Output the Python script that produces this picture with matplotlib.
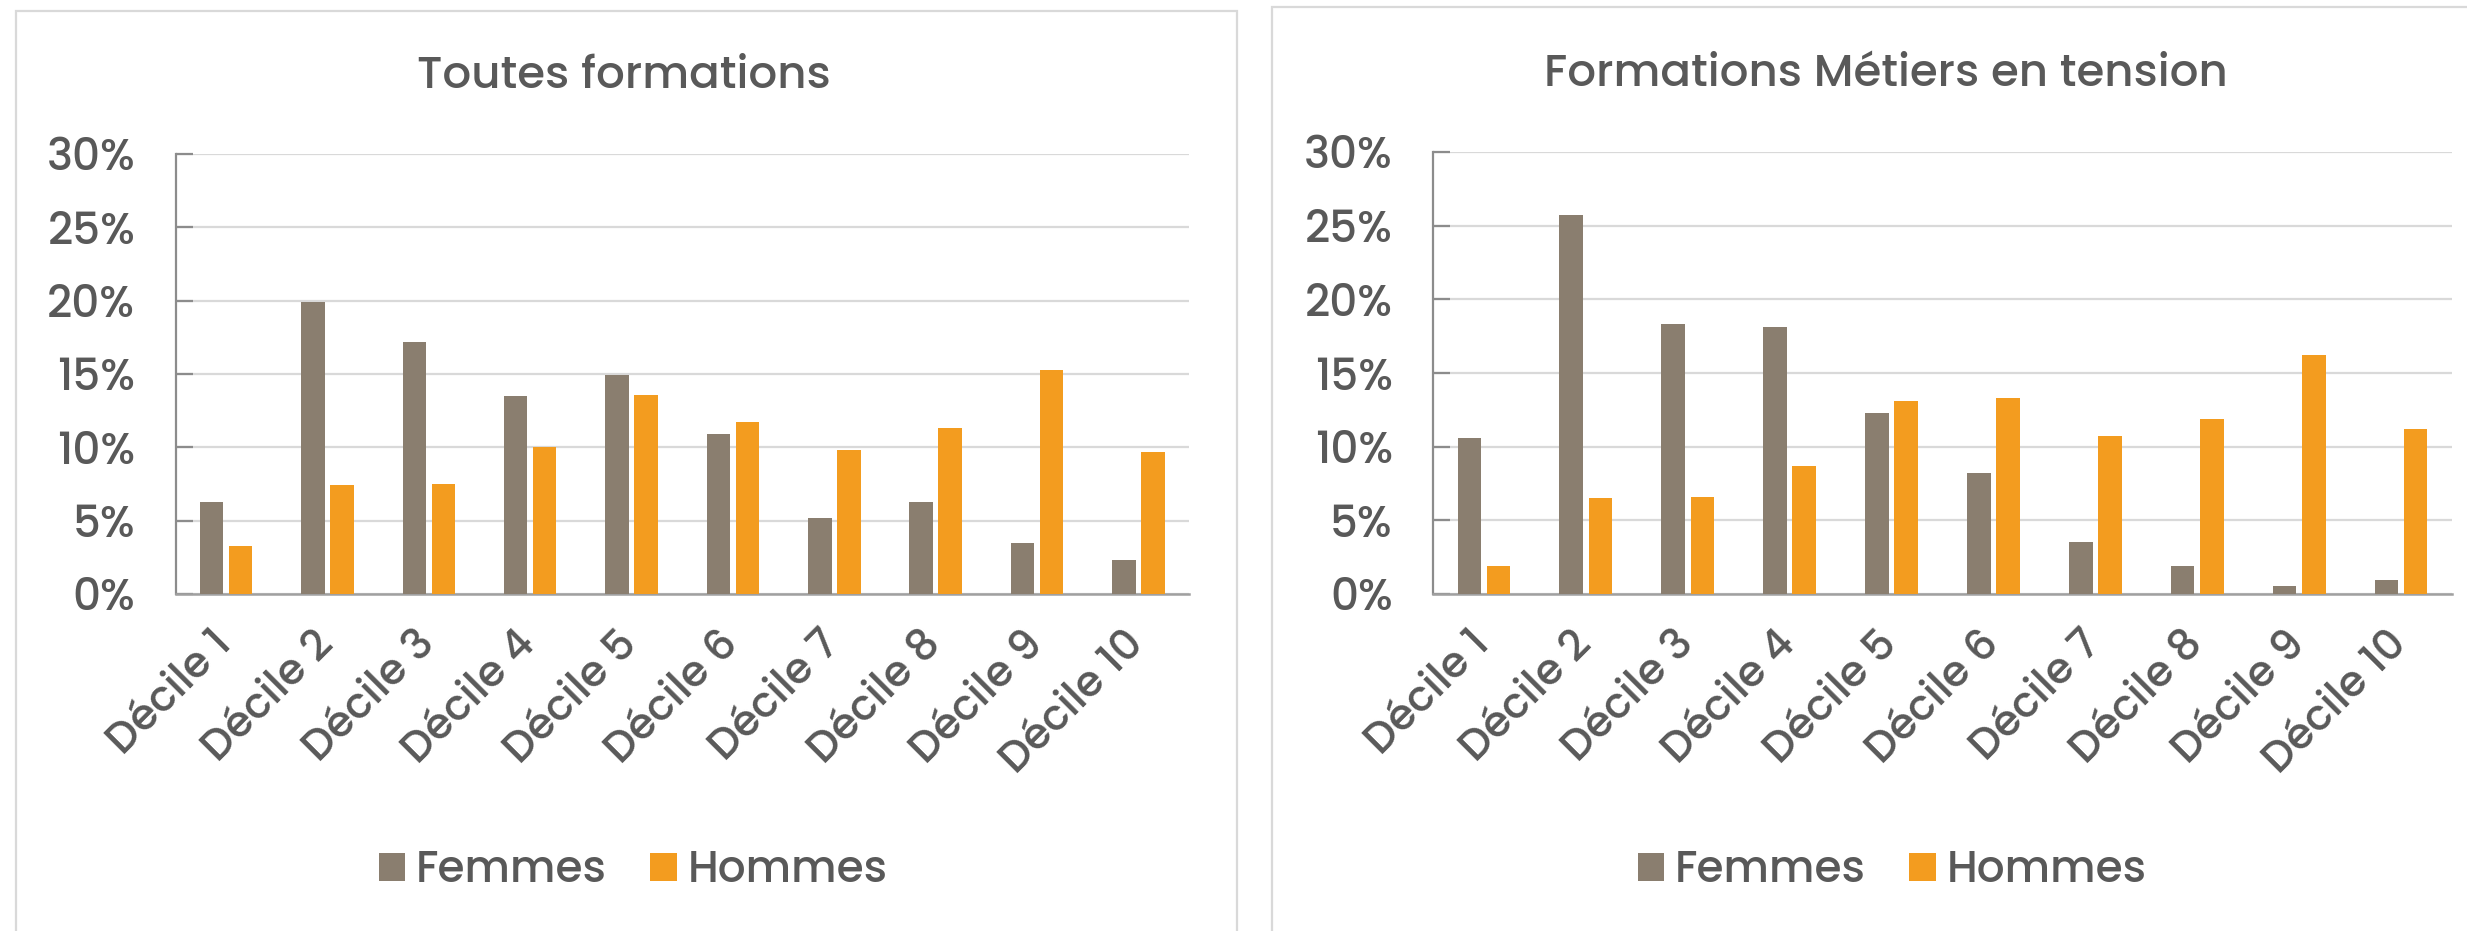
import matplotlib
matplotlib.use("Agg")
import matplotlib.pyplot as plt
from matplotlib.patches import Rectangle
from matplotlib.ticker import FuncFormatter
import numpy as np

plt.rcParams['font.family'] = ['Poppins', 'DejaVu Sans']
plt.rcParams['font.weight'] = 500

categories = ["Décile 1", "Décile 2", "Décile 3", "Décile 4", "Décile 5",
              "Décile 6", "Décile 7", "Décile 8", "Décile 9", "Décile 10"]
series_names = ["Femmes", "Hommes"]
titles = ["Toutes formations", "Formations Métiers en tension"]

toutes_femmes = [6.3, 19.9, 17.2, 13.5, 14.9, 10.9, 5.2, 6.3, 3.5, 2.3]
toutes_hommes = [3.3, 7.4, 7.5, 10.05, 13.6, 11.7, 9.8, 11.3, 15.3, 9.65]
tension_femmes = [10.6, 25.7, 18.3, 18.1, 12.3, 8.2, 3.5, 1.9, 0.55, 0.95]
tension_hommes = [1.9, 6.5, 6.6, 8.7, 13.1, 13.3, 10.75, 11.9, 16.2, 11.2]

col_f = "#8A7E6F"
col_h = "#F39C1F"
txt = "#595959"

W, H = 2467, 931
fig = plt.figure(figsize=(W / 100, H / 100), dpi=100)
fig.patch.set_facecolor("white")

def fx(px):
    return px / W

def fy(py):
    return 1 - py / H

# panel borders
fig.patches.append(Rectangle((fx(16), fy(1000)), fx(1237 - 16), fy(11) - fy(1000),
                             transform=fig.transFigure, fill=False,
                             edgecolor="#D9D9D9", linewidth=1.6, zorder=0))
fig.patches.append(Rectangle((fx(1272), fy(1000)), fx(1300), fy(7) - fy(1000),
                             transform=fig.transFigure, fill=False,
                             edgecolor="#D9D9D9", linewidth=1.6, zorder=0))

panels = [
    dict(rect=(175.5, 154, 1189, 594), title_xy=(624, 77), leg_xy=(633, 872),
         f=toutes_femmes, h=toutes_hommes, title=titles[0]),
    dict(rect=(1433, 152, 2452, 594), title_xy=(1886, 75), leg_xy=(1892, 872),
         f=tension_femmes, h=tension_hommes, title=titles[1]),
]

x = np.arange(len(categories))
bw = 0.232
off = 0.143

for p in panels:
    x0, y0, x1, y1 = p["rect"]
    ax = fig.add_axes([fx(x0), fy(y1), fx(x1 - x0), fy(y0) - fy(y1)])
    bf = ax.bar(x - off, np.array(p["f"]) / 100, width=bw, color=col_f, label=series_names[0], zorder=3)
    bh = ax.bar(x + off, np.array(p["h"]) / 100, width=bw, color=col_h, label=series_names[1], zorder=3)
    ax.set_xlim(-0.5, len(categories) - 0.5)
    ax.set_ylim(0, 0.30)
    ax.set_yticks(np.arange(0, 0.301, 0.05))
    ax.yaxis.set_major_formatter(FuncFormatter(lambda v, pos: f"{v * 100:.0f}%"))
    ax.set_xticks(x)
    ax.set_xticklabels(categories, rotation=45, ha="right", va="center",
                       rotation_mode="anchor", fontsize=30.5, color=txt)
    ax.tick_params(axis="x", length=0, pad=32)
    ax.tick_params(axis="y", direction="in", length=12, width=1.6, color="#8C8C8C",
                   labelsize=31.5, labelcolor=txt, pad=29)
    ax.grid(axis="y", color="#D9D9D9", linewidth=1.6, zorder=0)
    ax.set_axisbelow(True)
    for s in ["top", "right"]:
        ax.spines[s].set_visible(False)
    ax.spines["left"].set_color("#8C8C8C")
    ax.spines["left"].set_linewidth(1.6)
    ax.spines["bottom"].set_color("#A0A0A0")
    ax.spines["bottom"].set_linewidth(1.8)
    ax.set_facecolor("none")

    fig.text(fx(p["title_xy"][0]), fy(p["title_xy"][1]), p["title"], ha="center", va="center",
             fontsize=32.5, color=txt)
    fig.legend(handles=[bf, bh], labels=series_names, loc="center",
               bbox_to_anchor=(fx(p["leg_xy"][0]), fy(p["leg_xy"][1])),
               bbox_transform=fig.transFigure, ncol=2, frameon=False,
               fontsize=31.5, labelcolor=txt, handlelength=0.6, handleheight=0.6,
               handletextpad=0.25, columnspacing=1.0)

fig.savefig("out.png", dpi=100, facecolor="white")
